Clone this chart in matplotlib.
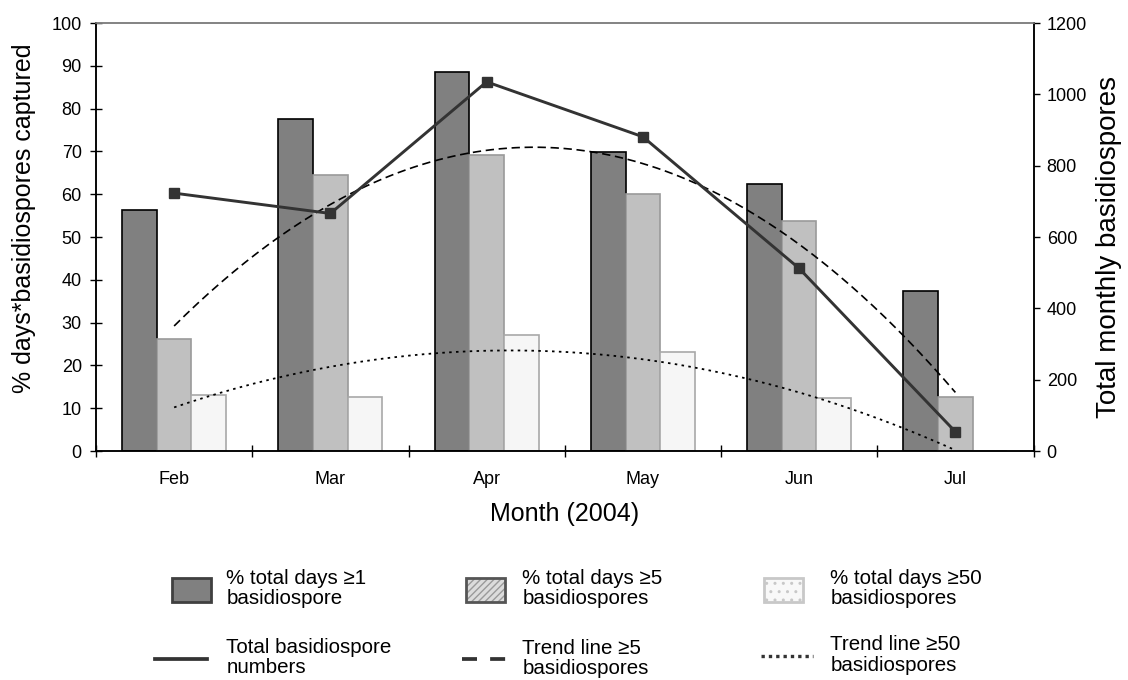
import numpy as np
import matplotlib
matplotlib.use("Agg")
import matplotlib.pyplot as plt
from matplotlib.patches import Rectangle
from matplotlib.lines import Line2D
from matplotlib.ticker import FixedLocator, NullFormatter

plt.rcParams['font.family'] = ['Liberation Sans', 'DejaVu Sans']

months = ["Feb", "Mar", "Apr", "May", "Jun", "Jul"]
pct_ge1 = [56.3, 77.5, 88.6, 69.9, 62.5, 37.4]
pct_ge5 = [26.1, 64.5, 69.2, 60.0, 53.7, 12.7]
pct_ge50 = [13.1, 12.7, 27.1, 23.2, 12.5, 0.0]
total_spores = [723, 666, 1035, 881, 512, 54]
left_ticks = [0, 10, 20, 30, 40, 50, 60, 70, 80, 90, 100]
right_ticks = [0, 200, 400, 600, 800, 1000, 1200]

W, H = 1128, 680
fig = plt.figure(figsize=(W / 100, H / 100), dpi=100)
L, R, T, B = 96, 1033.5, 23, 451
ax = fig.add_axes([L / W, 1 - B / H, (R - L) / W, (B - T) / H])
ax2 = ax.twinx()

x = np.arange(len(months))
bw = 1 / 4.5
ax.bar(x - bw, pct_ge1, bw, color="#808080", edgecolor="#000000", linewidth=1.2, zorder=2)
ax.bar(x, pct_ge5, bw, color="#C0C0C0", edgecolor="#9A9A9A", linewidth=1.2, zorder=2)
ax.bar(x + bw, pct_ge50, bw, color="#F6F6F6", edgecolor="#A8A8A8", linewidth=1.2, zorder=2)

# polynomial (2nd order) trend lines computed from the bar values
xs = np.linspace(0, len(months) - 1, 200)
c5 = np.polyfit(x, pct_ge5, 2)
c50 = np.polyfit(x, pct_ge50, 2)
ax.plot(xs, np.polyval(c5, xs), color="black", lw=1.2, dashes=(5, 2.8), zorder=3)
ax.plot(xs, np.polyval(c50, xs), color="black", lw=1.3, dashes=(1.4, 2.4), zorder=3)

ax2.plot(x, total_spores, color="#333333", lw=2.1, marker="s", markersize=6.5,
         markerfacecolor="#333333", markeredgecolor="#333333", zorder=4)

ax.set_xlim(-0.5, len(months) - 0.5)
ax.set_ylim(0, 100)
ax2.set_ylim(0, 1200)
ax.set_yticks(left_ticks)
ax2.set_yticks(right_ticks)
ax.set_xticks(x)
ax.set_xticklabels(months)
ax.xaxis.set_minor_locator(FixedLocator(np.arange(-0.5, len(months), 1.0)))
ax.xaxis.set_minor_formatter(NullFormatter())
ax.tick_params(axis="x", which="major", length=0, labelsize=13, pad=14.5)
ax.tick_params(axis="x", which="minor", direction="inout", length=8.5, width=1)
ax.tick_params(axis="y", direction="inout", length=8.5, width=1, labelsize=13, pad=6)
ax2.tick_params(axis="y", direction="out", length=4.5, width=1, labelsize=13, pad=5)

for a in (ax, ax2):
    for s in ("left", "right", "bottom"):
        a.spines[s].set_color("black")
        a.spines[s].set_linewidth(1.1)
    a.spines["top"].set_color("#808080")
    a.spines["top"].set_linewidth(1.1)

ax.set_ylabel("% days*basidiospores captured", fontsize=18)
ax.yaxis.label.set_va("center")
ax.yaxis.set_label_coords(-0.0768, 0.543)
ax2.set_ylabel("Total monthly basidiospores", fontsize=20)
ax2.yaxis.label.set_va("center")
ax2.yaxis.set_label_coords(1.081, 0.4766)
ax.set_xlabel("Month (2004)", fontsize=18)
ax.xaxis.label.set_va("center")
ax.xaxis.set_label_coords(0.5, -0.148)

# legend drawn in pixel coordinates
lg = fig.add_axes([0, 0, 1, 1], zorder=-5)
lg.set_xlim(0, W)
lg.set_ylim(H, 0)
lg.axis("off")
fs = 14.8
# row 1 patches
lg.add_patch(Rectangle((172, 578), 38.5, 24, facecolor="#808080", edgecolor="#404040", lw=2))
lg.add_patch(Rectangle((465.5, 578), 39, 24, facecolor="#DCDCDC", edgecolor="#9A9A9A",
                       hatch="/////", lw=0))
lg.add_patch(Rectangle((465.5, 578), 39, 24, facecolor="none", edgecolor="#555555", lw=2))
lg.add_patch(Rectangle((764, 578), 39, 24, facecolor="#F8F8F8", edgecolor="#C8C8C8",
                       hatch="..", lw=2))
# row 2 line handles
lg.add_line(Line2D([155, 206.5], [659, 659], color="#333333", lw=2.7))
lg.add_line(Line2D([462, 506], [659, 659], color="#333333", lw=2.7, dashes=(4.0, 3.5)))
lg.add_line(Line2D([761, 813], [656, 656], color="#333333", lw=2.4, dashes=(1.0, 1.2)))

txt = dict(fontsize=fs, va="center", ha="left", linespacing=1.13)
lg.text(226.5, 588.5, "% total days \u22651\nbasidiospore", **txt)
lg.text(522.5, 588.5, "% total days \u22655\nbasidiospores", **txt)
lg.text(830.5, 588.5, "% total days \u226550\nbasidiospores", **txt)
lg.text(226.5, 657.5, "Total basidiospore\nnumbers", **txt)
lg.text(522.5, 658.5, "Trend line \u22655\nbasidiospores", **txt)
lg.text(830.5, 655, "Trend line \u226550\nbasidiospores", **txt)

fig.savefig("out.png", dpi=100, facecolor="white")
